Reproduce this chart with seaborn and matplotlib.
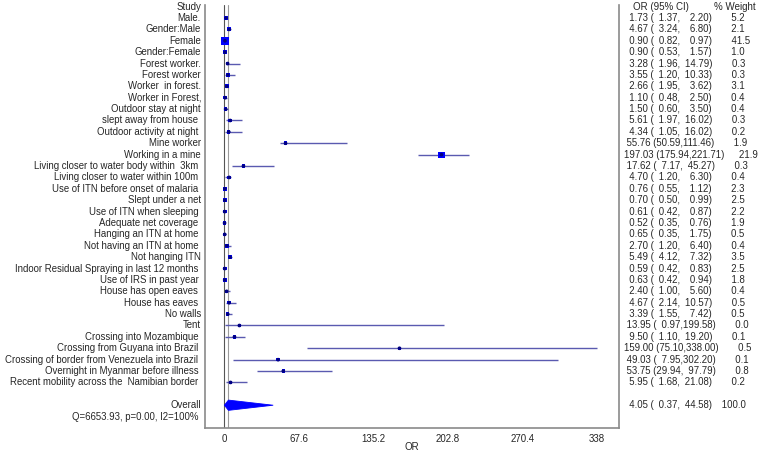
import numpy as np
import pandas as pd
import matplotlib
matplotlib.use("Agg")
import matplotlib.pyplot as plt
import matplotlib.transforms as mtransforms
from matplotlib.patches import Polygon
import seaborn as sns

# -----------------------------------
# DATA
# -----------------------------------

studies = [
    "Male.", "Gender:Male", "Female", "Gender:Female", "Forest worker.",
    "Forest worker", "Worker  in forest.", "Worker in Forest,",
    "Outdoor stay at night", "slept away from house ",
    "Outdoor activity at night ", "Mine worker", "Working in a mine",
    "Living closer to water body within  3km ",
    "Living closer to water within 100m ",
    "Use of ITN before onset of malaria ", "Slept under a net",
    "Use of ITN when sleeping ", "Adequate net coverage ",
    "Hanging an ITN at home ", "Not having an ITN at home ",
    "Not hanging ITN", "Indoor Residual Spraying in last 12 months ",
    "Use of IRS in past year ", "House has open eaves ", "House has eaves ",
    "No walls", "Tent", "Crossing into Mozambique ",
    "Crossing from Guyana into Brazil ",
    "Crossing of border from Venezuela into Brazil ",
    "Overnight in Myanmar before illness ",
    "Recent mobility across the  Namibian border ",
]

odds = [1.73, 4.67, 0.90, 0.90, 3.28, 3.55, 2.66, 1.10, 1.50, 5.61, 4.34,
        55.76, 197.03, 17.62, 4.70, 0.76, 0.70, 0.61, 0.52, 0.65, 2.70,
        5.49, 0.59, 0.63, 2.40, 4.67, 3.39, 13.95, 9.50, 159.00, 49.03,
        53.75, 5.95]

lower = [1.37, 3.24, 0.82, 0.53, 1.96, 1.20, 1.95, 0.48, 0.60, 1.97, 1.05,
         50.59, 175.94, 7.17, 1.20, 0.55, 0.50, 0.42, 0.35, 0.35, 1.20,
         4.12, 0.42, 0.42, 1.00, 2.14, 1.55, 0.97, 1.10, 75.10, 7.95,
         29.94, 1.68]

upper = [2.20, 6.80, 0.97, 1.57, 14.79, 10.33, 3.62, 2.50, 3.50, 16.02,
         16.02, 111.46, 221.71, 45.27, 6.30, 1.12, 0.99, 0.87, 0.76, 1.75,
         6.40, 7.32, 0.83, 0.94, 5.60, 10.57, 7.42, 199.58, 19.20, 338.00,
         302.20, 97.79, 21.08]

weights = [5.2, 2.1, 41.5, 1.0, 0.3, 0.3, 3.1, 0.4, 0.4, 0.3, 0.2, 1.9,
           21.9, 0.3, 0.4, 2.3, 2.5, 2.2, 1.9, 0.5, 0.4, 3.5, 2.5, 1.8, 0.4,
           0.5, 0.5, 0.0, 0.1, 0.5, 0.1, 0.8, 0.2]

overall_or = 4.05
overall_lo = 0.37
overall_hi = 44.58
overall_w = 100.0
het_text = "Q=6653.93, p=0.00, I2=100% "

xticks = [0, 67.6, 135.2, 202.8, 270.4, 338]
xtick_labels = ["0", "67.6", "135.2", "202.8", "270.4", "338"]

# -----------------------------------
# TABLE
# -----------------------------------

df = pd.DataFrame({
    "study": studies,
    "OR": odds,
    "lo": lower,
    "hi": upper,
    "weight": weights,
})
df["row"] = np.arange(1, len(df) + 1)
overall_row = len(df) + 2

# -----------------------------------
# FIGURE
# -----------------------------------

sns.set_style("white")
plt.rcParams["font.family"] = ["Liberation Sans", "DejaVu Sans"]

txt_col = "#262626"
fs_left = 6.9
fs = 7.0
fs_right = 6.9

fig = plt.figure(figsize=(7.6, 4.55), dpi=100)
ax = fig.add_axes([205 / 760, 1 - 428 / 455, 414 / 760, 423 / 455])

# reference lines
ax.axvline(0, color="#555555", lw=0.8, zorder=1)
ax.axvline(overall_or, color="#9a9a9a", lw=0.8, zorder=1)

# confidence intervals
ax.hlines(df["row"], df["lo"], df["hi"], color="#5a5ab0", lw=1.0, zorder=2)

# weight boxes
sns.scatterplot(data=df, x="OR", y="row", size="weight",
                sizes=(6, 33), size_norm=(0, 41.5), marker="s",
                color="#0000ff", edgecolor="none", legend=False,
                ax=ax, zorder=3)

# point estimates
sns.scatterplot(data=df, x="OR", y="row", marker="o", s=7,
                color="#000080", edgecolor="none", legend=False,
                ax=ax, zorder=4)

# overall diamond
diamond = Polygon([[overall_lo, overall_row],
                   [overall_or, overall_row - 0.45],
                   [overall_hi, overall_row],
                   [overall_or, overall_row + 0.45]],
                  closed=True, facecolor="#0000ff", edgecolor="#0000ff",
                  lw=0.6, zorder=3)
ax.add_patch(diamond)

# axes
ax.set_xlim(-17.2, 357.9)
ax.set_ylim(37.0, -0.14)
ax.set_xticks(xticks)
ax.set_xticklabels(xtick_labels, fontsize=fs, color=txt_col)
ax.set_yticks([])
ax.set_xlabel("OR", fontsize=fs, color=txt_col, labelpad=-1.5)
ax.set_ylabel("")
ax.tick_params(axis="x", length=2.5, width=0.6, color="#999999", pad=2)

for side in ["left", "bottom", "right"]:
    ax.spines[side].set_color("#8a8a8a")
    ax.spines[side].set_linewidth(1.2)
ax.spines["top"].set_visible(False)

# -----------------------------------
# TEXT COLUMNS
# -----------------------------------

trans = mtransforms.blended_transform_factory(fig.transFigure, ax.transData)
x_left = 201 / 760
x_right = 624 / 760
EN = "\u2002"


def pad(value, width):
    s = f"{value:.2f}"
    return EN * max(0, width - len(s)) + s


def ci_string(o, l, h, w):
    plain = f"{o:6.2f} ({l:5.2f},{h:6.2f})"
    lead = f"{o:6.2f}"
    if w >= 100:
        sep = EN * 2
    else:
        sep = EN * (3 + max(0, 22 - len(plain)))
    return f"{lead} ({pad(l, 5)},{pad(h, 6)}){sep}{w:.1f}"


ax.text(x_left, 0, "Study", transform=trans, ha="right", va="center",
        fontsize=fs_left, color=txt_col)
ax.text(633 / 760, 0, "OR (95% CI)", transform=trans, ha="left",
        va="center", fontsize=fs, color=txt_col)
ax.text(714 / 760, 0, "% Weight", transform=trans, ha="left",
        va="center", fontsize=fs, color=txt_col)

for _, r in df.iterrows():
    ax.text(x_left, r["row"], r["study"], transform=trans, ha="right",
            va="center", fontsize=fs_left, color=txt_col)
    ax.text(x_right, r["row"], ci_string(r["OR"], r["lo"], r["hi"], r["weight"]),
            transform=trans, ha="left", va="center", fontsize=fs_right,
            color=txt_col)

ax.text(x_left, overall_row, "Overall", transform=trans, ha="right",
        va="center", fontsize=fs_left, color=txt_col)
ax.text(x_left, overall_row + 1, het_text, transform=trans, ha="right",
        va="center", fontsize=fs_left, color=txt_col)
ax.text(x_right, overall_row,
        ci_string(overall_or, overall_lo, overall_hi, overall_w),
        transform=trans, ha="left", va="center", fontsize=fs_right,
        color=txt_col)

fig.savefig("out.png", dpi=100)
